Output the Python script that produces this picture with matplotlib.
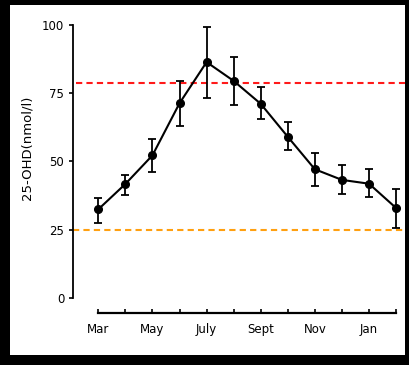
import matplotlib.pyplot as plt
from matplotlib.patches import Rectangle

# monthly 25-OHD values
months = ["Mar", "Apr", "May", "Jun", "July", "Aug", "Sept", "Oct", "Nov", "Dec", "Jan", "Feb"]
shown_labels = ["Mar", "", "May", "", "July", "", "Sept", "", "Nov", "", "Jan", ""]
mean_ohd = [32.4, 41.7, 52.2, 71.3, 86.4, 79.5, 71.1, 59.0, 47.1, 43.2, 41.8, 32.9]
err_upper = [36.4, 45.0, 58.2, 79.5, 99.4, 88.1, 77.1, 64.3, 53.1, 48.8, 47.1, 40.0]
err_lower = [27.5, 37.7, 46.0, 63.0, 73.3, 70.5, 65.5, 54.3, 41.1, 38.0, 36.8, 25.4]
red_ref = 78.9
orange_ref = 25.0

x = list(range(len(months)))
yerr = [[m - lo for m, lo in zip(mean_ohd, err_lower)],
        [hi - m for m, hi in zip(mean_ohd, err_upper)]]

fig = plt.figure(figsize=(4.09, 3.65), dpi=100, facecolor="black")
# white panel inside black frame
fig.patches.append(Rectangle((10 / 409, 10 / 365), 395 / 409, 350 / 365,
                             transform=fig.transFigure, facecolor="white",
                             edgecolor="none", zorder=-10))

ax = fig.add_axes([72.7 / 409, 67.3 / 365, 332.3 / 409, 272.7 / 365])
ax.set_facecolor("none")

ax.axhline(red_ref, xmin=0.01, color="#ff1a1a", lw=1.5, dashes=(3, 2), zorder=1)
ax.axhline(orange_ref, color="#ffa010", lw=1.5, dashes=(3, 2), zorder=1)

ax.errorbar(x, mean_ohd, yerr=yerr, color="black", lw=1.5, marker="o",
            markersize=5.5, capsize=3, capthick=1.3, elinewidth=1.3, zorder=3)

ax.set_xlim(-0.946, 11.33)
ax.set_ylim(0, 100)
ax.set_yticks([0, 25, 50, 75, 100])
ax.set_xticks(x)
ax.set_xticklabels(shown_labels)

for s in ["top", "right"]:
    ax.spines[s].set_visible(False)
ax.spines["left"].set_bounds(0, 100)
ax.spines["left"].set_linewidth(1.3)
ax.spines["bottom"].set_bounds(0, 11)
ax.spines["bottom"].set_position(("outward", 11))
ax.spines["bottom"].set_linewidth(1.6)

ax.tick_params(axis="y", direction="out", length=3, width=1.2, pad=3, labelsize=8.5)
ax.tick_params(axis="x", direction="in", length=3, width=1.2, pad=7, labelsize=8.5)

ax.set_ylabel("25-OHD(nmol/l)", fontsize=9.5)
ax.yaxis.set_label_coords(-0.119, 0.549)

fig.savefig("out.png", dpi=100, facecolor=fig.get_facecolor())
